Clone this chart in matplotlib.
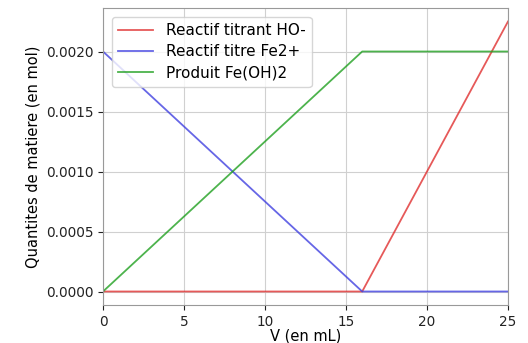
import matplotlib
matplotlib.use("Agg")
import matplotlib.pyplot as plt
import numpy as np

V = [0, 16, 25]
titrant = [0.0, 0.0, 0.00225]
titre = [0.0020, 0.0, 0.0]
produit = [0.0, 0.0020, 0.0020]
labels = ["Reactif titrant HO-", "Reactif titre Fe2+", "Produit Fe(OH)2"]

fig = plt.figure(figsize=(5.28, 3.43), dpi=100)
ax = fig.add_axes([103/528, 1-305/343, (508-103)/528, (305-8)/343])
ax.plot(V, titrant, color="#e03030", lw=1.3, alpha=0.8, label=labels[0])
ax.plot(V, titre, color="#4040e0", lw=1.3, alpha=0.8, label=labels[1])
ax.plot(V, produit, color="#20a020", lw=1.3, alpha=0.8, label=labels[2])
ax.set_xlim(0, 25)
ax.set_ylim(-0.0001125, 0.0023625)
ax.set_xticks([0, 5, 10, 15, 20, 25])
ax.set_yticks([0, 0.0005, 0.0010, 0.0015, 0.0020])
ax.set_yticklabels(["0.0000", "0.0005", "0.0010", "0.0015", "0.0020"])
ax.grid(True, color="#d0d0d0", lw=0.8)
ax.set_xlabel("V (en mL)", labelpad=0, fontsize=10.5)
ax.set_ylabel("Quantites de matiere (en mol)", fontsize=10.5)
for s in ax.spines.values():
    s.set_color("#999999")
ax.tick_params(colors="#222222", labelsize=9.8)
ax.legend(loc="upper left", fontsize=11, handlelength=2.3, borderaxespad=0.6,
          labelspacing=0.4)
fig.savefig("out.png", dpi=100)
